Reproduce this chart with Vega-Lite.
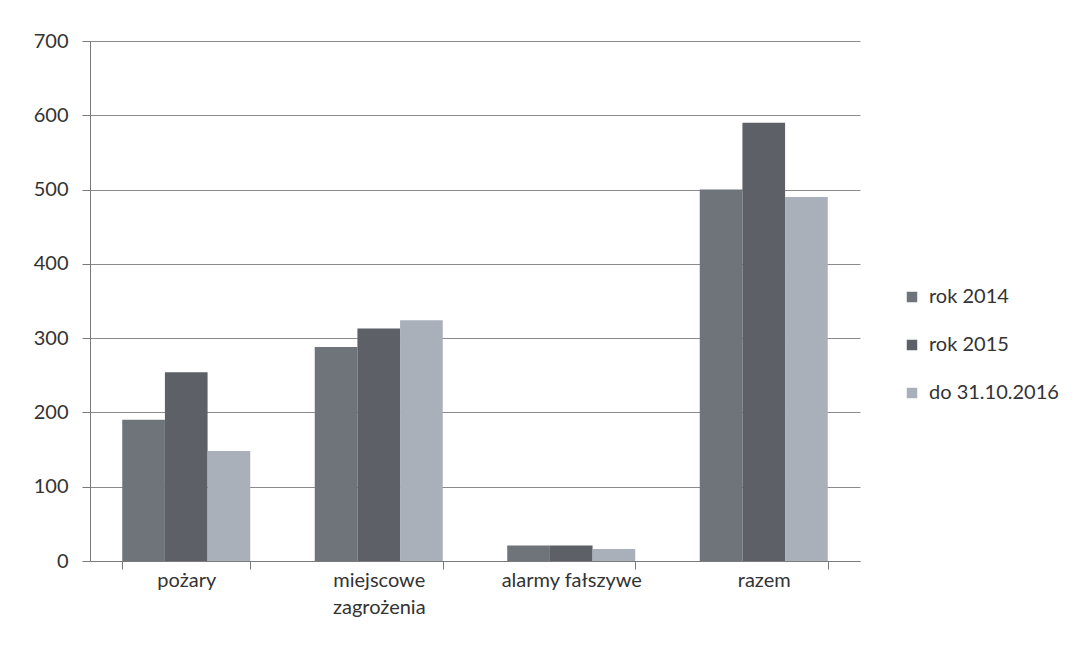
{
  "$schema": "https://vega.github.io/schema/vega-lite/v6.json",
  "width": 770,
  "height": 520,
  "autosize": {"type": "none"},
  "padding": {"left": 90, "top": 41, "right": 226, "bottom": 104},
  "background": "#ffffff",
  "data": {
    "values": [
      {"kategoria": "pożary", "seria": "rok 2014", "wartosc": 190},
      {"kategoria": "pożary", "seria": "rok 2015", "wartosc": 254},
      {"kategoria": "pożary", "seria": "do 31.10.2016", "wartosc": 148},
      {"kategoria": "miejscowe zagrożenia", "seria": "rok 2014", "wartosc": 288},
      {"kategoria": "miejscowe zagrożenia", "seria": "rok 2015", "wartosc": 313},
      {"kategoria": "miejscowe zagrożenia", "seria": "do 31.10.2016", "wartosc": 324},
      {"kategoria": "alarmy fałszywe", "seria": "rok 2014", "wartosc": 21},
      {"kategoria": "alarmy fałszywe", "seria": "rok 2015", "wartosc": 21},
      {"kategoria": "alarmy fałszywe", "seria": "do 31.10.2016", "wartosc": 16},
      {"kategoria": "razem", "seria": "rok 2014", "wartosc": 500},
      {"kategoria": "razem", "seria": "rok 2015", "wartosc": 590},
      {"kategoria": "razem", "seria": "do 31.10.2016", "wartosc": 490}
    ]
  },
  "mark": {"type": "bar"},
  "encoding": {
    "x": {
      "field": "kategoria",
      "type": "nominal",
      "sort": ["pożary", "miejscowe zagrożenia", "alarmy fałszywe", "razem"],
      "scale": {"paddingInner": 0.335, "paddingOuter": 0.1675},
      "axis": {
        "title": null,
        "labelAngle": 0,
        "tickBand": "extent",
        "tickSize": 8,
        "labelPadding": 1,
        "labelExpr": "datum.label == 'miejscowe zagrożenia' ? ['miejscowe', 'zagrożenia'] : datum.label",
        "labelLineHeight": 27,
        "labelBaseline": "top"
      }
    },
    "xOffset": {
      "field": "seria",
      "type": "nominal",
      "sort": ["rok 2014", "rok 2015", "do 31.10.2016"],
      "scale": {"paddingInner": 0, "paddingOuter": 0}
    },
    "y": {
      "field": "wartosc",
      "type": "quantitative",
      "scale": {"domain": [0, 700], "nice": false},
      "axis": {
        "title": null,
        "values": [0, 100, 200, 300, 400, 500, 600, 700],
        "tickSize": 8,
        "labelPadding": 14,
        "grid": true
      }
    },
    "color": {
      "field": "seria",
      "type": "nominal",
      "sort": ["rok 2014", "rok 2015", "do 31.10.2016"],
      "scale": {
        "domain": ["rok 2014", "rok 2015", "do 31.10.2016"],
        "range": ["#6e7479", "#5d6066", "#aab0b9"]
      },
      "legend": {
        "title": null,
        "orient": "none",
        "legendX": 812,
        "legendY": 246,
        "symbolType": "square",
        "symbolSize": 110,
        "rowPadding": 28,
        "labelFontSize": 20,
        "labelFont": "Lato",
        "labelColor": "#333333",
        "labelOffset": 7
      }
    }
  },
  "config": {
    "view": {"stroke": null},
    "axis": {
      "labelFont": "Lato",
      "labelFontSize": 20,
      "labelColor": "#333333",
      "domainColor": "#7a7a7a",
      "tickColor": "#7a7a7a",
      "gridColor": "#8a8a8a",
      "gridWidth": 1,
      "gridOpacity": 1
    }
  }
}
